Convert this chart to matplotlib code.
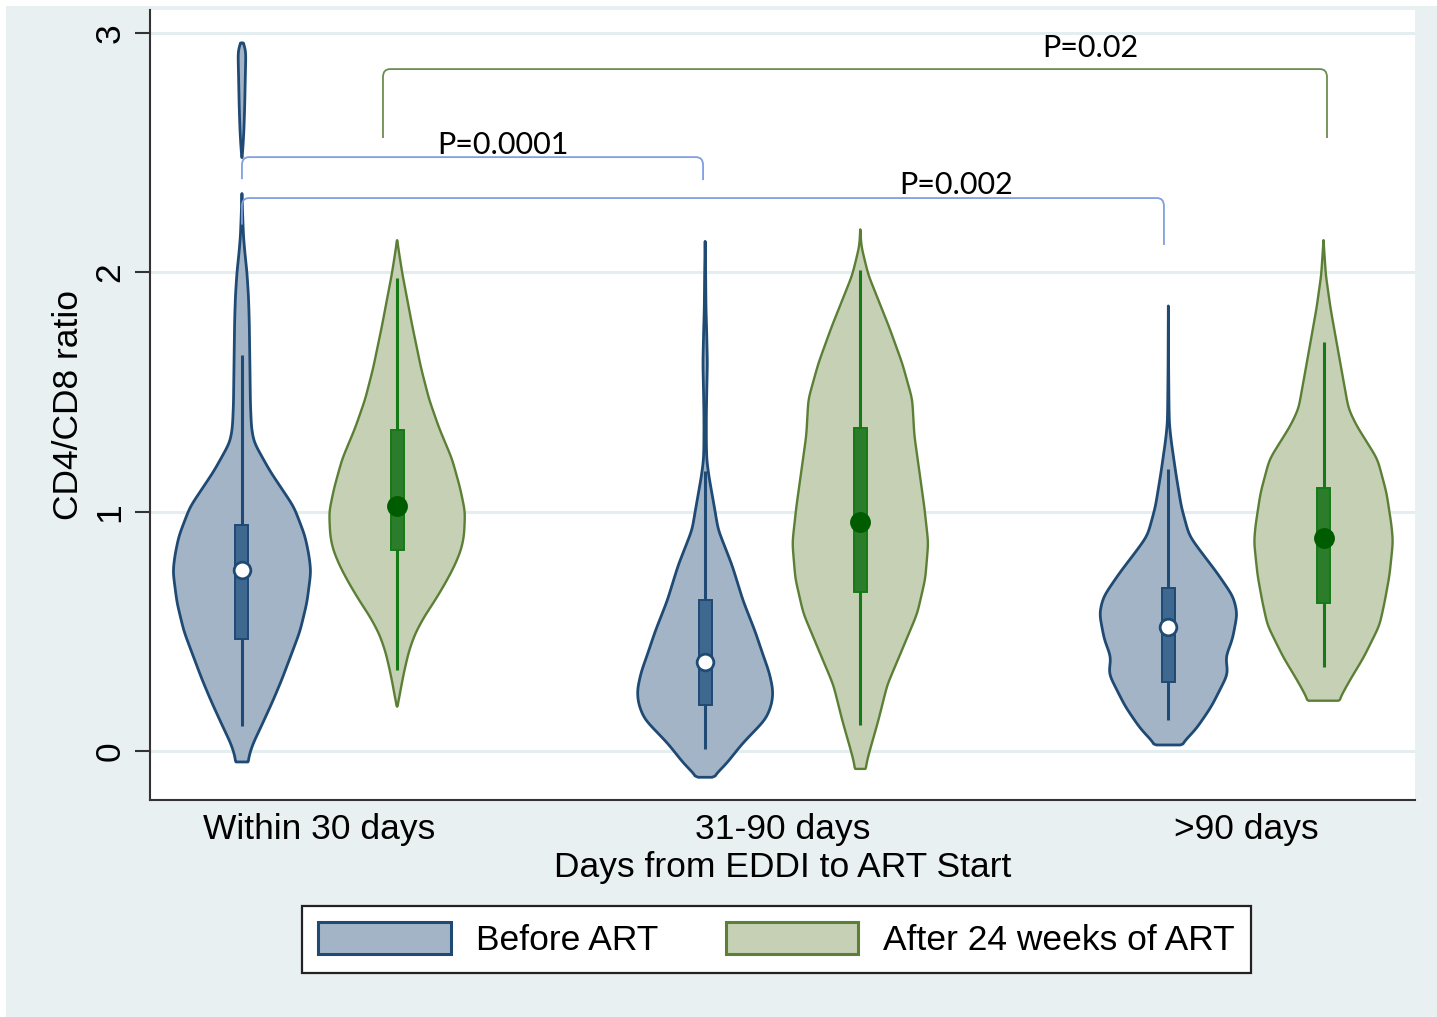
import matplotlib
matplotlib.use("Agg")
import matplotlib.pyplot as plt
import numpy as np
from matplotlib.patches import Patch, Rectangle, PathPatch
from matplotlib.path import Path

plt.rcParams["font.family"] = "Liberation Sans"

GROUPS = ["Within 30 days", "31-90 days", ">90 days"]
SERIES = ["Before ART", "After 24 weeks of ART"]

# violin outlines: CD4/CD8 value and relative half-width (1 = widest)
# nan separates a detached piece (outlier blob)
B1_Y = [2.96, 2.945, 2.90, 2.80, 2.70, 2.60, 2.52, 2.48, np.nan,
        2.33, 2.25, 2.15, 2.08, 2.00, 1.90, 1.80, 1.60, 1.45, 1.35, 1.29, 1.17,
        1.02, 0.90, 0.82, 0.75, 0.62, 0.50, 0.41, 0.30, 0.21, 0.10, 0.03, -0.02, -0.046]
B1_W = [0, .055, .055, .047, .04, .029, .014, 0, np.nan,
        0, .009, .022, .043, .072, .094, .105, .115, .122, .137, .173, .403,
        .748, .906, .964, .993, .935, .835, .719, .576, .446, .273, .158, .101, .086]

G1_Y = [2.135, 2.0, 1.78, 1.60, 1.47, 1.35, 1.22, 1.10, 1.0, 0.90, 0.84, 0.77,
        0.70, 0.63, 0.56, 0.49, 0.42, 0.35, 0.28, 0.22, 0.185]
G1_W = [0, .072, .216, .345, .46, .604, .791, .906, .978, .964, .921, .82,
        .691, .547, .388, .259, .173, .115, .065, .029, 0]

B2_Y = [2.13, 2.0, 1.85, 1.75, 1.62, 1.50, 1.40, 1.30, 1.22, 1.15, 1.0, 0.925,
        0.776, 0.627, 0.50, 0.40, 0.33, 0.254, 0.20, 0.134, 0.03, -0.06, -0.11]
B2_W = [0, .007, .012, .022, .032, .023, .017, .017, .022, .053, .144, .187,
        .388, .547, .719, .835, .921, .978, .964, .878, .532, .288, .101]

G2_Y = [2.18, 2.11, 1.99, 1.77, 1.62, 1.47, 1.32, 1.17, 1.02, 0.87, 0.72,
        0.575, 0.425, 0.276, 0.127, -0.02, -0.075]
G2_W = [0, .014, .115, .417, .604, .748, .777, .849, .921, .978, .935,
        .82, .604, .388, .259, .115, .072]

B3_Y = [1.86, 1.6, 1.45, 1.37, 1.30, 1.16, 1.02, 0.90, 0.84, 0.745, 0.645,
        0.575, 0.464, 0.39, 0.325, 0.185, 0.087, 0.025]
B3_W = [0, .004, .009, .014, .039, .108, .187, .30, .45, .70, .935,
        .993, .921, .82, .863, .619, .388, .173]

G3_Y = [2.135, 1.99, 1.85, 1.64, 1.43, 1.36, 1.22, 1.08, 0.944, 0.875, 0.735,
        0.62, 0.525, 0.39, 0.30, 0.21]
G3_W = [0, .033, .101, .23, .36, .475, .777, .906, .978, 1.0, .95,
        .878, .806, .576, .388, .216]

# box stats: lower whisker, q1, median, q3, upper whisker
BEFORE_STATS = [(0.105, 0.468, 0.758, 0.945, 1.655),
                (0.01, 0.19, 0.37, 0.63, 1.17),
                (0.13, 0.29, 0.52, 0.68, 1.18)]
AFTER_STATS = [(0.34, 0.838, 1.022, 1.34, 1.975),
               (0.11, 0.665, 0.955, 1.35, 2.01),
               (0.35, 0.62, 0.89, 1.10, 1.71)]

# comparison brackets: (x from, x to, y of bar, left leg end, right leg end, label, label x, label y)
BRACKETS = [
    (0.8325, 1.828, 2.482, 2.39, 2.386, "P=0.0001", 1.396, 2.495, "blue"),
    (0.8325, 2.823, 2.311, 2.20, 2.115, "P=0.002", 2.374, 2.33, "blue"),
    (1.137, 3.175, 2.85, 2.562, 2.562, "P=0.02", 2.663, 2.90, "green"),
]

BG = "#e9f0f2"
NAVY = "#1f4a74"
BLUE_FILL = "#a3b4c7"
BLUE_BOX = "#3f6891"
OLIVE = "#5b7f35"
GREEN_FILL = "#c6d0b5"
GREEN_LINE = "#157a15"
GREEN_BOX = "#2b7d2b"
GREEN_MED = "#005c00"
BRACKET_COL = {"blue": "#7f9fe0", "green": "#6d8c50"}

OFFSET = 0.1675
HALF = 0.150
BOXW = 0.028
FS = 25.5


def smooth_outline(y, w, sigma=0.022):
    order = np.argsort(y)
    y, w = y[order], w[order]
    yy = np.linspace(y[0], y[-1], 400)
    ww = np.interp(yy, y, w)
    step = yy[1] - yy[0]
    s = max(sigma / step, 0.5)
    n = int(3 * s) + 1
    k = np.exp(-0.5 * (np.arange(-n, n + 1) / s) ** 2)
    k /= k.sum()
    padded = np.pad(ww, n, mode="edge")
    ws = np.convolve(padded, k, mode="same")[n:-n]
    ws[0], ws[-1] = ww[0], ww[-1]
    return yy, ws


def draw_violin(ax, xc, ys, ws, face, edge, lw):
    ys = np.asarray(ys, float)
    ws = np.asarray(ws, float) * HALF
    breaks = np.where(np.isnan(ys))[0]
    for y, w in zip(np.split(ys, breaks), np.split(ws, breaks)):
        keep = ~np.isnan(y)
        y, w = smooth_outline(y[keep], w[keep])
        xs = np.r_[xc - w, (xc + w)[::-1]]
        yy = np.r_[y, y[::-1]]
        ax.fill(xs, yy, facecolor=face, edgecolor=edge, lw=lw,
                joinstyle="round", zorder=2)


def draw_box(ax, xc, stats, line, face, edge, mface, medge, ms):
    lo, q1, med, q3, hi = stats
    ax.plot([xc, xc], [lo, hi], color=line, lw=2.2, solid_capstyle="butt", zorder=3)
    ax.add_patch(Rectangle((xc - BOXW / 2, q1), BOXW, q3 - q1, facecolor=face,
                           edgecolor=edge, lw=1.4, zorder=4))
    ax.plot(xc, med, "o", ms=ms, mfc=mface, mec=medge, mew=2.0, zorder=5)


def draw_bracket(ax, x0, x1, y, yl, yr, color):
    rx, ry = 7 / 463.2, 8 / 239.3
    verts = [(x0, yl), (x0, y - ry), (x0, y), (x0 + rx, y),
             (x1 - rx, y), (x1, y), (x1, y - ry), (x1, yr)]
    codes = [Path.MOVETO, Path.LINETO, Path.CURVE3, Path.CURVE3,
             Path.LINETO, Path.CURVE3, Path.CURVE3, Path.LINETO]
    ax.add_patch(PathPatch(Path(verts, codes), fill=False, edgecolor=color,
                           lw=1.3, zorder=6))


fig = plt.figure(figsize=(14.37, 10.17), dpi=100)
fig.patch.set_facecolor("white")
fig.add_artist(Rectangle((6 / 1437, 0), 1, 1 - 6 / 1017, transform=fig.transFigure,
                         facecolor=BG, edgecolor="none", zorder=-10))
ax = fig.add_axes([150 / 1437, 1 - 800 / 1017, 1265 / 1437, 790 / 1017])
ax.set_facecolor("white")

before = [(B1_Y, B1_W), (B2_Y, B2_W), (B3_Y, B3_W)]
after = [(G1_Y, G1_W), (G2_Y, G2_W), (G3_Y, G3_W)]
centers = np.arange(1, len(GROUPS) + 1)

for i, xc in enumerate(centers):
    xb, xa = xc - OFFSET, xc + OFFSET
    draw_violin(ax, xb, *before[i], BLUE_FILL, NAVY, 2.0)
    draw_violin(ax, xa, *after[i], GREEN_FILL, OLIVE, 1.7)
    draw_box(ax, xb, BEFORE_STATS[i], NAVY, BLUE_BOX, NAVY, "white", NAVY, 12)
    draw_box(ax, xa, AFTER_STATS[i], GREEN_LINE, GREEN_BOX, GREEN_LINE, GREEN_MED, GREEN_MED, 13)

for x0, x1, y, yl, yr, label, lx, ly, col in BRACKETS:
    draw_bracket(ax, x0, x1, y, yl, yr, BRACKET_COL[col])
    ax.text(lx, ly, label, ha="center", va="baseline", fontsize=22,
            family="Lato", color="black", zorder=7)

ax.set_xlim(0.634, 3.365)
ax.set_ylim(-0.205, 3.097)
ax.set_yticks([0, 1, 2, 3])
ax.set_yticklabels(["0", "1", "2", "3"], rotation=90, va="center", fontsize=FS)
ax.set_xticks(centers)
ax.set_xticklabels(GROUPS, fontsize=FS)
ax.tick_params(axis="y", length=10.8, width=1.5, color="#333333", pad=6)
ax.tick_params(axis="x", length=0, pad=9)
ax.set_ylabel("CD4/CD8 ratio", fontsize=FS, labelpad=6)
ax.set_xlabel("Days from EDDI to ART Start", fontsize=FS, labelpad=4)
ax.yaxis.grid(True, color="#e4edf0", lw=2.2)
ax.set_axisbelow(True)
for side in ("top", "right"):
    ax.spines[side].set_visible(False)
for side in ("left", "bottom"):
    ax.spines[side].set_color("#333333")
    ax.spines[side].set_linewidth(1.5)

handles = [Patch(facecolor=BLUE_FILL, edgecolor=NAVY, lw=2.2),
           Patch(facecolor=GREEN_FILL, edgecolor=OLIVE, lw=2.2)]
leg = fig.legend(handles, SERIES, loc="center", bbox_to_anchor=(0.5405, 0.0762),
                 ncol=2, frameon=True, fancybox=False, edgecolor="#222222",
                 handlelength=3.75, handleheight=1.0, handletextpad=0.7,
                 columnspacing=1.9, borderpad=0.45, fontsize=FS, framealpha=1)
leg.get_frame().set_linewidth(1.6)

fig.savefig("out.png", dpi=100, facecolor=fig.get_facecolor())
